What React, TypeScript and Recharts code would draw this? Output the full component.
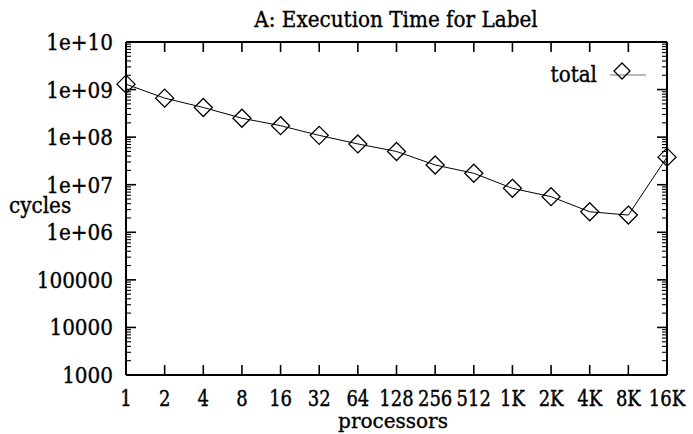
import React from "react";
import { LineChart, Line, XAxis, YAxis, ReferenceLine, Legend } from "recharts";

const processors = ["1", "2", "4", "8", "16", "32", "64", "128", "256", "512", "1K", "2K", "4K", "8K", "16K"];
const totalCycles = [
  1.3e9, 6.6e8, 4.2e8, 2.5e8, 1.74e8, 1.09e8, 7.2e7, 5.0e7, 2.6e7, 1.74e7, 8.4e6, 5.6e6, 2.7e6, 2.3e6, 3.8e7,
];
const majorTicks = [1e3, 1e4, 1e5, 1e6, 1e7, 1e8, 1e9, 1e10];
const yTickLabels = ["1000", "10000", "100000", "1e+06", "1e+07", "1e+08", "1e+09", "1e+10"];
const minorSteps = [2, 3, 4, 5, 6, 7, 8, 9];

const W = 693;
const H = 434;
const TOP = 42;
const RIGHT = 667;
const FONT = "'DejaVu Serif', serif";

const data = processors.map((p, i) => ({ p, total: totalCycles[i] }));
const allYTicks = [
  ...majorTicks,
  ...majorTicks.slice(0, -1).flatMap((d) => minorSteps.map((m) => m * d)),
].sort((a, b) => a - b);

// serif text, stretched vertically to match the tall reference glyphs
function T({ x, y, anchor = "start", size = 20, stretch = 1.16, children }: any) {
  return (
    <text
      transform={`translate(${x},${y}) scale(1,${stretch})`}
      textAnchor={anchor}
      fontFamily={FONT}
      fontSize={size}
      fill="#000"
      stroke="#000"
      strokeWidth={0.35}
    >
      {children}
    </text>
  );
}

function YTick(props: any) {
  const { x, y, payload } = props;
  const idx = majorTicks.indexOf(payload.value);
  const len = idx >= 0 ? 10 : 5;
  const sw = idx >= 0 ? 1.6 : 1.1;
  return (
    <g>
      <line x1={x} x2={x + len} y1={y} y2={y} stroke="#000" strokeWidth={sw} />
      <line x1={RIGHT} x2={RIGHT - len} y1={y} y2={y} stroke="#000" strokeWidth={sw} />
      {idx >= 0 && (
        <T x={x - 13} y={y + 8} anchor="end">
          {yTickLabels[idx]}
        </T>
      )}
    </g>
  );
}

function XTick(props: any) {
  const { x, y, payload } = props;
  return (
    <g>
      <line x1={x} x2={x} y1={y} y2={y - 10} stroke="#000" strokeWidth={1.6} />
      <line x1={x} x2={x} y1={TOP} y2={TOP + 10} stroke="#000" strokeWidth={1.6} />
      <T x={x} y={y + 31} anchor="middle" size={18} stretch={1.25}>
        {payload.value}
      </T>
    </g>
  );
}

function diamondPath(cx: number, cy: number, r: number) {
  return `M${cx},${cy - r}L${cx + r},${cy}L${cx},${cy + r}L${cx - r},${cy}Z`;
}

function Diamond(props: any) {
  const { cx, cy, index } = props;
  if (cx == null || cy == null) return null;
  return <path key={index} d={diamondPath(cx, cy, 9)} fill="none" stroke="#000" strokeWidth={1.3} />;
}

function LegendBox() {
  return (
    <svg width={130} height={34}>
      <T x={57} y={26} anchor="end">
        total
      </T>
      <line x1={70} x2={106} y1={19} y2={19} stroke="#777" strokeWidth={1.2} />
      <path d={diamondPath(82, 15, 8)} fill="none" stroke="#000" strokeWidth={1.3} />
    </svg>
  );
}

export default function App() {
  return (
    <div style={{ position: "absolute", left: 0, top: 0, width: W, height: H, background: "#fff" }}>
      <LineChart width={W} height={H} data={data} margin={{ top: TOP, right: W - RIGHT, bottom: 0, left: 0 }}>
        <XAxis
          dataKey="p"
          height={59}
          interval={0}
          tickSize={0}
          tickMargin={0}
          tick={<XTick />}
          axisLine={{ stroke: "#000", strokeWidth: 2 }}
        />
        <YAxis
          scale="log"
          domain={[1e3, 1e10]}
          allowDataOverflow
          ticks={allYTicks}
          interval={0}
          width={126}
          tickSize={0}
          tickMargin={0}
          tick={<YTick />}
          axisLine={{ stroke: "#000", strokeWidth: 2 }}
        />
        <ReferenceLine y={1e10} stroke="#000" strokeWidth={2} ifOverflow="visible" />
        <ReferenceLine x="16K" stroke="#000" strokeWidth={2} ifOverflow="visible" />
        <Legend
          layout="horizontal"
          align="center"
          verticalAlign="middle"
          content={<LegendBox />}
          wrapperStyle={{ left: 540, top: 56, width: 130, height: 34 }}
        />
        <Line
          type="linear"
          dataKey="total"
          stroke="#000"
          strokeWidth={1}
          dot={Diamond}
          activeDot={false}
          isAnimationActive={false}
        />
      </LineChart>
      <svg width={W} height={H} style={{ position: "absolute", left: 0, top: 0, pointerEvents: "none" }}>
        <T x={396} y={27} anchor="middle">
          A: Execution Time for Label
        </T>
        <T x={9} y={213}>
          cycles
        </T>
        <T x={393} y={428} anchor="middle" stretch={1}>
          processors
        </T>
      </svg>
    </div>
  );
}
